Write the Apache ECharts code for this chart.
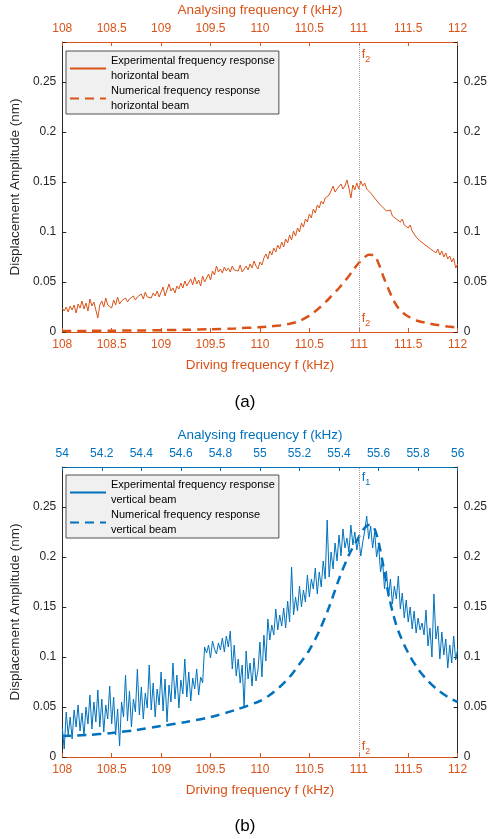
<!DOCTYPE html>
<html>
<head>
<meta charset="utf-8">
<script src="https://cdn.jsdelivr.net/npm/echarts@6/dist/echarts.min.js"></script>
<style>
  html, body { margin: 0; padding: 0; background: #fff; }
  #chart { width: 490px; height: 839px; }
</style>
</head>
<body>
<div id="chart"></div>
<script>
// Driving-frequency grid of the measured sweeps (kHz)
const sweepStart = 108;
const sweepStep = 0.02;

// (a) horizontal beam: measured displacement amplitude (nm), one value per sweep step
const expHorizontal = [
  0.024, 0.021, 0.025, 0.020, 0.026, 0.022, 0.027, 0.019, 0.028, 0.024,
  0.031, 0.023, 0.029, 0.021, 0.033, 0.026, 0.030, 0.022, 0.014, 0.027,
  0.031, 0.025, 0.034, 0.027, 0.029, 0.024, 0.032, 0.027, 0.035, 0.028,
  0.031, 0.029, 0.034, 0.030, 0.033, 0.031, 0.036, 0.032, 0.035, 0.034,
  0.038, 0.033, 0.040, 0.035, 0.037, 0.034, 0.039, 0.036, 0.041, 0.035,
  0.040, 0.045, 0.036, 0.042, 0.048, 0.041, 0.044, 0.039, 0.046, 0.043,
  0.049, 0.044, 0.051, 0.046, 0.048, 0.053, 0.047, 0.055, 0.048, 0.052,
  0.046, 0.056, 0.050, 0.054, 0.058,
  0.052, 0.061, 0.057, 0.066, 0.060, 0.063, 0.059, 0.065, 0.061, 0.064,
  0.060, 0.066, 0.062, 0.064, 0.061, 0.067, 0.060, 0.063, 0.066, 0.062,
  0.068, 0.064, 0.071, 0.066, 0.063,
  0.070, 0.067, 0.074, 0.078, 0.073, 0.081, 0.077, 0.084, 0.080, 0.087,
  0.083, 0.090, 0.085, 0.093, 0.089, 0.097, 0.092, 0.101, 0.096, 0.104,
  0.100, 0.109, 0.105, 0.113, 0.110,
  0.118, 0.114, 0.123, 0.119, 0.127, 0.124, 0.131, 0.128, 0.134, 0.132,
  0.137, 0.135, 0.146, 0.140, 0.143, 0.141, 0.148, 0.143, 0.146, 0.152,
  0.144, 0.134, 0.147, 0.142, 0.149,
  0.143, 0.151, 0.146, 0.149, 0.143, 0.145, 0.139, 0.141, 0.134, 0.136,
  0.129, 0.131, 0.125, 0.127, 0.121, 0.119, 0.122, 0.116, 0.118, 0.113,
  0.115, 0.110, 0.113, 0.107, 0.109,
  0.104, 0.107, 0.101, 0.098, 0.095, 0.097, 0.091, 0.093, 0.088, 0.090,
  0.085, 0.087, 0.082, 0.084, 0.079, 0.083, 0.077, 0.081, 0.075, 0.079,
  0.073, 0.076, 0.070, 0.074, 0.064, 0.068
];

// (a) horizontal beam: simulated response [frequency kHz, amplitude nm]
const numHorizontal = [
  [108.0, 0.0010], [108.25, 0.0011], [108.5, 0.0013], [108.75, 0.0015],
  [109.0, 0.0018], [109.25, 0.0022], [109.5, 0.0028], [109.75, 0.0036],
  [110.0, 0.0048], [110.1, 0.0056], [110.2, 0.0066], [110.3, 0.0082],
  [110.4, 0.0110], [110.5, 0.0165], [110.6, 0.0240], [110.7, 0.0335],
  [110.8, 0.0440], [110.85, 0.0500], [110.9, 0.0560], [110.95, 0.0630],
  [111.0, 0.0690], [111.05, 0.0740], [111.1, 0.0772], [111.15, 0.0770],
  [111.2, 0.0685], [111.25, 0.0550], [111.3, 0.0430], [111.35, 0.0320],
  [111.4, 0.0240], [111.45, 0.0190], [111.5, 0.0155], [111.6, 0.0110],
  [111.7, 0.0088], [111.8, 0.0070], [111.9, 0.0055], [112.0, 0.0045]
];

// (b) vertical beam: measured displacement amplitude (nm), one value per sweep step
const expVertical = [
  0.030, 0.008, 0.045, 0.022, 0.040, 0.018, 0.047, 0.030, 0.052, 0.026,
  0.044, 0.021, 0.050, 0.033, 0.062, 0.028, 0.055, 0.035, 0.067, 0.030,
  0.058, 0.025, 0.052, 0.038, 0.071, 0.033, 0.060, 0.022, 0.048, 0.011,
  0.055, 0.040, 0.082, 0.036, 0.066, 0.030, 0.058, 0.045, 0.088, 0.042,
  0.070, 0.038, 0.064, 0.049, 0.092, 0.047, 0.074, 0.040, 0.068, 0.052,
  0.085, 0.046, 0.078, 0.035, 0.072, 0.055, 0.094, 0.058, 0.082, 0.049,
  0.077, 0.063, 0.098, 0.060, 0.085, 0.056, 0.079, 0.068, 0.088, 0.062,
  0.080, 0.074, 0.110, 0.104, 0.112, 0.099, 0.116, 0.108, 0.103, 0.114,
  0.107, 0.119, 0.105, 0.121, 0.110, 0.126, 0.088, 0.112, 0.081, 0.098,
  0.074, 0.092, 0.050, 0.106, 0.078, 0.094, 0.071, 0.099, 0.076, 0.087,
  0.115, 0.080, 0.122, 0.096, 0.138, 0.117, 0.132, 0.122, 0.148, 0.127,
  0.142, 0.131, 0.149, 0.129, 0.156, 0.135, 0.190, 0.142, 0.160, 0.146,
  0.171, 0.150, 0.167, 0.155, 0.182, 0.160, 0.178, 0.168, 0.189, 0.163,
  0.185, 0.170, 0.196, 0.178, 0.237, 0.180, 0.205, 0.188, 0.214, 0.196,
  0.222, 0.201, 0.228, 0.209, 0.219, 0.205, 0.232, 0.212, 0.225, 0.207,
  0.218, 0.201, 0.215, 0.226, 0.241, 0.218, 0.231, 0.209, 0.225, 0.200,
  0.212, 0.185, 0.197, 0.168, 0.186, 0.160, 0.178, 0.153, 0.171, 0.158,
  0.181, 0.148, 0.164, 0.139, 0.157, 0.135, 0.150, 0.128, 0.146, 0.124,
  0.139, 0.127, 0.134, 0.122, 0.147, 0.111, 0.129, 0.100, 0.163, 0.118,
  0.131, 0.098, 0.125, 0.102, 0.118, 0.089, 0.112, 0.094, 0.121, 0.097,
  0.108
];

// (b) vertical beam: simulated response [frequency kHz, amplitude nm]
const numVertical = [
  [108.0, 0.021], [108.25, 0.022], [108.5, 0.024], [108.75, 0.027],
  [109.0, 0.031], [109.25, 0.035], [109.5, 0.040], [109.75, 0.047],
  [110.0, 0.056], [110.1, 0.062], [110.2, 0.070], [110.3, 0.080],
  [110.4, 0.093], [110.5, 0.107], [110.6, 0.126], [110.7, 0.150],
  [110.8, 0.178], [110.9, 0.202], [111.0, 0.220], [111.05, 0.228],
  [111.1, 0.232], [111.15, 0.230], [111.2, 0.215], [111.25, 0.190],
  [111.3, 0.163], [111.35, 0.142], [111.4, 0.126], [111.5, 0.104],
  [111.6, 0.088], [111.7, 0.076], [111.8, 0.067], [111.9, 0.060],
  [112.0, 0.055]
];

// Axis ranges and tick steps
const drivingRange = [108, 112];
const drivingStep = 0.5;
const analysingRangeA = [108, 112];
const analysingStepA = 0.5;
const analysingRangeB = [54, 56];
const analysingStepB = 0.2;
const ampRange = [0, 0.29];
const ampStep = 0.05;

// Resonance markers
const resonanceF = 111;

const ORANGE = '#D95319';
const BLUE = '#0072BD';
const INK = '#262626';
const FONT = 'Liberation Sans, Arial, Helvetica, sans-serif';

const withSweep = vals => vals.map((v, i) => [+(sweepStart + i * sweepStep).toFixed(2), v]);

const ampLabel = v => {
  const k = v / ampStep;
  return Math.abs(k - Math.round(k)) < 1e-6 ? String(+v.toFixed(2)) : '';
};

function xAxisDef(grid, pos, range, step, color, name) {
  return {
    type: 'value', gridIndex: grid, position: pos,
    min: range[0], max: range[1], interval: step,
    name: name, nameLocation: 'middle',
    nameGap: pos === 'bottom' ? 26 : 25,
    nameTextStyle: { color: color, fontSize: 13.5, fontFamily: FONT },
    axisLine: { show: true, onZero: false, lineStyle: { color: color, width: 1 } },
    axisTick: { show: true, inside: true, length: 4, lineStyle: { color: color } },
    axisLabel: { color: color, fontSize: 12, fontFamily: FONT, margin: 7,
      formatter: v => String(+v.toFixed(2)) },
    splitLine: { show: false }
  };
}

function yAxisDef(grid, pos, withName) {
  return {
    type: 'value', gridIndex: grid, position: pos,
    min: ampRange[0], max: ampRange[1], interval: ampStep,
    name: withName ? 'Displacement Amplitude (nm)' : '',
    nameLocation: 'middle', nameGap: 35,
    nameTextStyle: { color: INK, fontSize: 13.5, fontFamily: FONT },
    axisLine: { show: true, lineStyle: { color: INK, width: 1 } },
    axisTick: { show: true, inside: true, length: 4, lineStyle: { color: INK } },
    axisLabel: { color: INK, fontSize: 12, fontFamily: FONT, margin: 6, formatter: ampLabel },
    splitLine: { show: false }
  };
}

const fRich = color => ({
  f: { color: color, fontSize: 12.5, fontFamily: FONT },
  s: { color: color, fontSize: 9, fontFamily: FONT, padding: [9, 0, 0, 0] }
});

function markerPoints(items) {
  return {
    symbol: 'circle', symbolSize: 0, silent: true, animation: false,
    data: items.map(it => ({
      coord: [resonanceF, it.y],
      label: {
        show: true, position: 'right', distance: 3,
        formatter: '{f|f}{s|' + it.sub + '}',
        rich: fRich(it.color)
      }
    }))
  };
}

const vline = {
  symbol: 'none', silent: true, animation: false,
  label: { show: false },
  lineStyle: { color: '#b49a94', type: 'dotted', width: 1 },
  data: [{ xAxis: resonanceF }]
};

const nameExpA = 'Experimental frequency response\nhorizontal beam';
const nameNumA = 'Numerical frequency response\nhorizontal beam';
const nameExpB = 'Experimental frequency response\nvertical beam';
const nameNumB = 'Numerical frequency response\nvertical beam';

function legendDef(top, names) {
  return {
    left: 66, top: top, orient: 'vertical',
    data: names,
    backgroundColor: '#f0f0f0', borderColor: INK, borderWidth: 0.8,
    padding: [3, 4, 1, 3], itemGap: 1,
    itemWidth: 36, itemHeight: 12,
    itemStyle: { opacity: 0, borderWidth: 0 },
    textStyle: { color: '#000', fontSize: 11, fontFamily: FONT, lineHeight: 14.5 },
    selectedMode: false
  };
}

const chart = echarts.init(document.getElementById('chart'), null, { renderer: 'canvas' });
chart.setOption({
  animation: false,
  backgroundColor: '#fff',
  grid: [
    { left: 55, right: 31, top: 42, height: 290 },
    { left: 55, right: 31, top: 467, height: 290 }
  ],
  xAxis: [
    xAxisDef(0, 'bottom', drivingRange, drivingStep, ORANGE, 'Driving frequency f (kHz)'),
    xAxisDef(0, 'top', analysingRangeA, analysingStepA, ORANGE, 'Analysing frequency f (kHz)'),
    xAxisDef(1, 'bottom', drivingRange, drivingStep, ORANGE, 'Driving frequency f (kHz)'),
    xAxisDef(1, 'top', analysingRangeB, analysingStepB, BLUE, 'Analysing frequency f (kHz)')
  ],
  yAxis: [
    yAxisDef(0, 'left', true),
    yAxisDef(0, 'right', false),
    yAxisDef(1, 'left', true),
    yAxisDef(1, 'right', false)
  ],
  legend: [
    legendDef(51, [nameExpA, nameNumA]),
    legendDef(475, [nameExpB, nameNumB])
  ],
  graphic: [
    { type: 'text', left: 'center', top: 394,
      style: { text: '(a)', font: '17px ' + FONT, fill: '#000' } },
    { type: 'text', left: 'center', top: 818,
      style: { text: '(b)', font: '17px ' + FONT, fill: '#000' } }
  ],
  series: [
    {
      name: nameExpA, type: 'line', xAxisIndex: 0, yAxisIndex: 0,
      data: withSweep(expHorizontal), showSymbol: false, symbol: 'none',
      lineStyle: { color: ORANGE, width: 1 }, itemStyle: { color: ORANGE },
      z: 3, markLine: vline,
      markPoint: markerPoints([
        { y: 0.277, sub: '2', color: ORANGE },
        { y: 0.013, sub: '2', color: ORANGE }
      ])
    },
    {
      name: nameNumA, type: 'line', xAxisIndex: 0, yAxisIndex: 0,
      data: numHorizontal, showSymbol: false, symbol: 'none', smooth: 0.3,
      lineStyle: { color: ORANGE, width: 2.5, type: [9, 6] }, itemStyle: { color: ORANGE },
      z: 4
    },
    {
      name: nameExpB, type: 'line', xAxisIndex: 2, yAxisIndex: 2,
      data: withSweep(expVertical), showSymbol: false, symbol: 'none',
      lineStyle: { color: BLUE, width: 1 }, itemStyle: { color: BLUE },
      z: 3, markLine: vline,
      markPoint: markerPoints([
        { y: 0.279, sub: '1', color: BLUE },
        { y: 0.010, sub: '2', color: ORANGE }
      ])
    },
    {
      name: nameNumB, type: 'line', xAxisIndex: 2, yAxisIndex: 2,
      data: numVertical, showSymbol: false, symbol: 'none', smooth: 0.3,
      lineStyle: { color: BLUE, width: 2.5, type: [9, 6] }, itemStyle: { color: BLUE },
      z: 4
    }
  ]
});
</script>
</body>
</html>
